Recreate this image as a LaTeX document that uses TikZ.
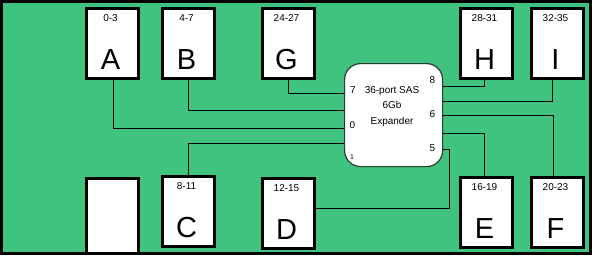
\documentclass[tikz,border=0pt]{standalone}
\usepackage{fontspec}
\setmainfont{Liberation Sans}
\definecolor{bg}{RGB}{64,195,126}
\definecolor{exborder}{RGB}{40,60,50}
\tikzset{
  drive/.style={draw=black, line width=3pt, fill=white, minimum width=52pt, minimum height=70pt, inner sep=0pt, anchor=north west},
  rng/.style={font=\fontsize{10}{12}\selectfont, inner sep=0pt, anchor=base},
  big/.style={font=\fontsize{29}{30}\selectfont, inner sep=0pt, anchor=base},
  port/.style={font=\fontsize{10}{12}\selectfont, inner sep=0pt, anchor=base},
  wire/.style={draw=black, line width=1pt},
}
\begin{document}
\begin{tikzpicture}[x=1pt,y=-1pt]
\useasboundingbox (0,0) rectangle (592,255);
\draw[line width=3pt, fill=bg] (1.5,1.5) rectangle (590.5,253.5);
% blank box
\node[draw=black, line width=3pt, fill=white, minimum width=52pt, minimum height=75.5pt, inner sep=0pt, anchor=north west] (blank) at (84.5,176.5) {};
% drives
\foreach \n/\x/\t/\r in {A/83/5/0-3, B/159/5/4-7, G/259/5/24-27, H/457/5/28-31, I/528/5/32-35, C/159/173/8-11, D/259/175/12-15, E/457/174/16-19, F/528/174/20-23} {
  \node[drive] (\n) at ({\x+1.5},{\t+1.5}) {};
  \node[rng] (r\n) at ({\x+27.5},{\t+16}) {\r};
  \node[big] (l\n) at ({\x+27.5},{\t+64}) {\n};
}
% expander
\node[draw=exborder, line width=1.2pt, fill=white, rounded corners=16pt, minimum width=98pt, minimum height=103pt, inner sep=0pt, anchor=north west] (ex) at (344,63) {};
\node[port] (exl1) at (392,93) {36-port SAS};
\node[port] (exl2) at (392,108.5) {6Gb};
\node[port] (exl3) at (392,124) {Expander};
\node[port] (p7) at (353,93) {7};
\node[port] (p0) at (352.5,128) {0};
\node[port, font=\fontsize{7}{8}\selectfont] (p1) at (352,159) {1};
\node[port] (p8) at (432.5,83.5) {8};
\node[port] (p6) at (432.5,117.5) {6};
\node[port] (p5) at (432.5,151.5) {5};
% wires
\draw[wire] (A.south -| 113,0) |- (ex.west |- 0,128);
\draw[wire] (B.south -| 188,0) |- (ex.west |- 0,110);
\draw[wire] (G.south -| 288,0) |- (ex.west |- 0,93);
\draw[wire] (ex.west |- 0,143) -| (C.north -| 188,0);
\draw[wire] (H.south -| 484,0) |- (ex.east |- 0,86);
\draw[wire] (I.south -| 552,0) |- (ex.east |- 0,101);
\draw[wire] (ex.east |- 0,115) -| (F.north -| 553,0);
\draw[wire] (ex.east |- 0,133) -| (E.north -| 484,0);
\draw[wire] (ex.east |- 0,149) -| (449,208) -- (D.east |- 0,208);
\end{tikzpicture}
\end{document}
